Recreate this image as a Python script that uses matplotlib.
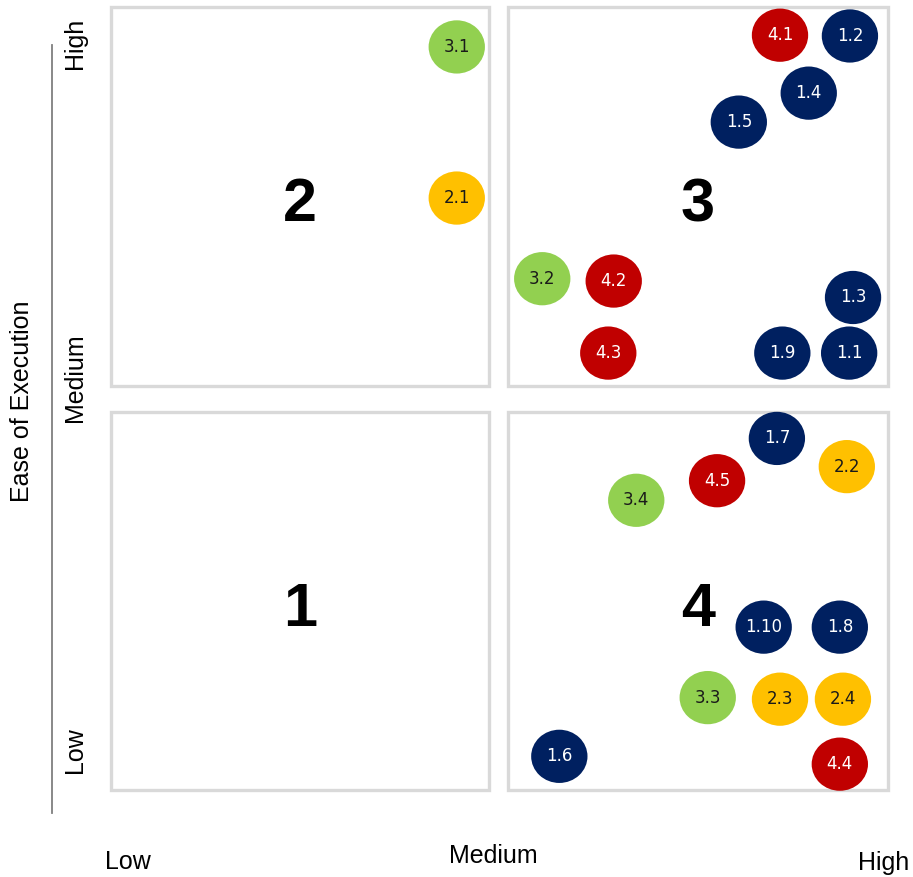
import matplotlib
matplotlib.use("Agg")
import matplotlib.pyplot as plt
from matplotlib.patches import Ellipse, Rectangle

# initiative ids and their position on the grid (0-100 scale both ways)
labels = ["1.1", "1.2", "1.3", "1.4", "1.5", "1.6", "1.7", "1.8", "1.9", "1.10",
          "2.1", "2.2", "2.3", "2.4",
          "3.1", "3.2", "3.3", "3.4",
          "4.1", "4.2", "4.3", "4.4", "4.5"]
impact = [95.0, 95.1, 95.5, 89.8, 80.8, 57.7, 85.7, 93.8, 86.4, 84.0,
          44.5, 94.7, 86.1, 94.2,
          44.5, 55.5, 76.8, 67.6,
          86.1, 64.7, 64.0, 93.8, 78.0]
ease = [55.8, 96.3, 62.9, 89.0, 85.3, 4.3, 44.9, 20.8, 55.8, 20.8,
        75.6, 41.3, 11.6, 11.6,
        94.9, 65.3, 11.8, 37.0,
        96.4, 65.0, 55.8, 3.3, 39.5]

group_colors = {"1": "#002060", "2": "#FFC000", "3": "#92D050", "4": "#C00000"}
text_colors = {"1": "white", "2": "#1a1a1a", "3": "#1a1a1a", "4": "white"}

quad_names = ["2", "3", "1", "4"]
axis_levels = ["Low", "Medium", "High"]

W, H = 913, 877
fig = plt.figure(figsize=(W / 100, H / 100), dpi=100)
ax = fig.add_axes([111 / W, (H - 790) / H, (888 - 111) / W, (790 - 7) / H])
ax.set_xlim(0, 100)
ax.set_ylim(0, 100)
ax.axis("off")

# quadrant boxes
x_spans = [(0, 48.6), (51.1, 100)]
y_spans = [(51.6, 100), (0, 48.3)]
k = 0
for ys in y_spans:
    for xs in x_spans:
        ax.add_patch(Rectangle((xs[0], ys[0]), xs[1] - xs[0], ys[1] - ys[0],
                               fill=False, ec="#D9D9D9", lw=2.4, zorder=1,
                               clip_on=False))
        ax.text((xs[0] + xs[1]) / 2, (ys[0] + ys[1]) / 2 - 1.2, quad_names[k],
                ha="center", va="center", fontsize=44, fontweight="bold",
                family="Liberation Sans", zorder=2)
        k += 1

# bubbles
for lab, x, y in zip(labels, impact, ease):
    g = lab.split(".")[0]
    ax.add_patch(Ellipse((x, y), 7.25, 6.8, color=group_colors[g], lw=0,
                         zorder=3, clip_on=False))
    ax.text(x, y, lab, ha="center", va="center", fontsize=12,
            color=text_colors[g], family="DejaVu Sans", zorder=4)

# y axis decoration
ax.plot([-7.6, -7.6], [-2.9, 95.1], color="#7f7f7f", lw=1.3, clip_on=False)
for lab, y in zip(axis_levels, [5.1, 52.6, 95.4]):
    ax.text(-4.6, y, lab, rotation=90, ha="center", va="center",
            fontsize=18, family="Liberation Sans", clip_on=False)
ax.text(-11.5, 49.6, "Ease of Execution", rotation=90, ha="center", va="center",
        fontsize=18, family="Liberation Sans", clip_on=False)

# x axis levels
for lab, x, y in zip(axis_levels, [2.2, 49.2, 99.5], [-9.2, -8.4, -9.3]):
    ax.text(x, y, lab, ha="center", va="center", fontsize=18,
            family="Liberation Sans", clip_on=False)

fig.savefig("out.png", dpi=100)
